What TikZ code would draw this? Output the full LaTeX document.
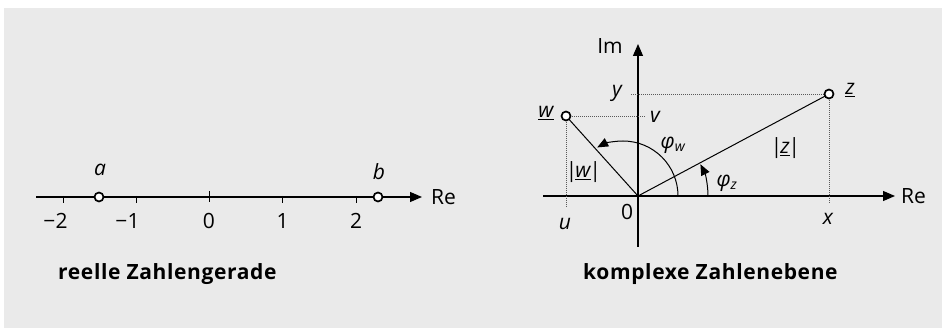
\documentclass[tikz,border=0pt]{standalone}
\usepackage{fontspec}
\setmainfont{Open Sans}
\usetikzlibrary{arrows.meta,calc}
\definecolor{bg}{RGB}{234,234,234}
\begin{document}
\begin{tikzpicture}[x=1pt,y=-1pt,
  lbl/.style={font=\fontsize{21}{25}\selectfont, inner sep=0pt},
  ilbl/.style={font=\fontsize{21}{25}\selectfont\itshape, inner sep=0pt},
  ttl/.style={font=\fontsize{21}{25}\selectfont\bfseries\addfontfeatures{LetterSpace=3}, inner sep=0pt, anchor=base west},
  axis/.style={line width=1.2pt, -{Triangle[length=12pt,width=10pt]}},
  angarrow/.style={line width=1pt, -{Triangle[length=11pt,width=9pt]}},
  pt/.style={circle, draw, fill=white, line width=1.7pt, minimum size=9pt, inner sep=0pt},
  dots/.style={dash pattern=on 1pt off 1pt, line width=0.9pt, draw=black!65},
  vec/.style={line width=1pt},
  tick/.style={line width=0.9pt}]
\useasboundingbox (0,0) rectangle (942,328);
\fill[white] (0,0) rectangle (942,328);
\fill[bg] (4,8) rectangle (942,328);

% ---------- real number line ----------
\coordinate (rs) at (36,197);
\coordinate (re) at (422,197);
\draw[axis] (rs) -- (re);
\foreach \x/\n in {63/m2,136/m1,282/p1,356/p2}{
  \coordinate (t\n a) at (\x,196);
  \coordinate (t\n b) at (\x,203);
  \draw[tick] (t\n a) -- (t\n b);
}
\coordinate (t0a) at (209,191);
\coordinate (t0b) at (209,202);
\draw[tick] (t0a) -- (t0b);
\node[lbl] (lm2) at (55.5,221) {−2};
\node[lbl] (lm1) at (127.5,221) {−1};
\node[lbl] (l0) at (209,221) {0};
\node[lbl] (l1) at (282.5,221) {1};
\node[lbl] (l2) at (356,221) {2};
\node[pt] (a) at (99,197) {};
\node[pt] (b) at (378,197) {};
\node[ilbl] (la) at (100,170) {a};
\node[ilbl] (lb) at (379,172) {b};
\node[lbl, anchor=west] (lre1) at (431,197) {Re};
\node[ttl] (t1) at (58,280) {reelle Zahlengerade};

% ---------- complex plane ----------
\coordinate (O) at (638,196);
\coordinate (xs) at (543,196);
\coordinate (xe) at (895,196);
\coordinate (ys) at (638,247);
\coordinate (ye) at (638,44);
\draw[axis] (xs) -- (xe);
\draw[axis] (ys) -- (ye);
\node[lbl] (lim) at (610,46) {Im};
\node[lbl, anchor=west] (lre2) at (901,196) {Re};
\node[lbl] (lzero) at (627,212) {0};

\coordinate (zy) at (631,94);
\coordinate (zx) at (829,203);
\coordinate (wv) at (646,116);
\coordinate (wu) at (566,207);
\coordinate (zpos) at (829,94);
\coordinate (wpos) at (566,116);
\draw[dots] (zy) -- (zpos);
\draw[dots] (zpos) -- (zx);
\draw[dots] (wpos) -- (wv);
\draw[dots] (wpos) -- (wu);
\draw[vec] (O) -- (zpos);
\draw[vec] (O) -- (wpos);

% angle arcs
\coordinate (cw) at (623,196);
\draw[angarrow] ($(cw)+(55,0)$) arc[start angle=0, end angle=-118, radius=55];
\draw[angarrow] ($(O)+(70,0)$) arc[start angle=0, end angle=-27, radius=70];

\node[pt] (z) at (zpos) {};
\node[pt] (w) at (wpos) {};
\node[ilbl] (lz) at (850,90) {\underline{z}};
\node[ilbl] (lw) at (546,113) {\underline{w}};
\node[ilbl] (ly) at (617,93) {y};
\node[ilbl] (lv) at (655,117) {v};
\node[ilbl] (lx) at (828,219) {x};
\node[ilbl] (lu) at (565,224) {u};
\node[ilbl] (labsz) at (785,148) {|\kern-1.5pt\underline{z}\kern-1.5pt|};
\node[ilbl] (labsw) at (583,172) {|\kern-1.5pt\underline{w}\kern-1.5pt|};
\node[ilbl] (phw) at (673,145) {φ\textsubscript{\fontsize{14}{16}\selectfont w}};
\node[ilbl] (phz) at (727,183) {φ\textsubscript{\fontsize{14}{16}\selectfont z}};

\node[ttl] (t2) at (583,280) {komplexe Zahlenebene};
\end{tikzpicture}
\end{document}
